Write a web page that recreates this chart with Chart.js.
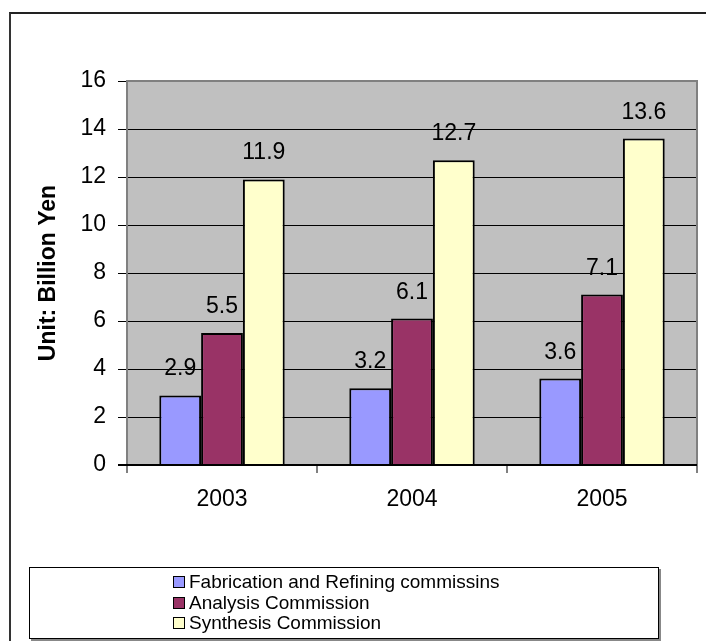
<!DOCTYPE html>
<html>
<head>
<meta charset="utf-8">
<script src="https://cdn.jsdelivr.net/npm/chart.js@4/dist/chart.umd.min.js"></script>
<style>
  body { margin: 0; background: #fff; }
  #wrap { position: relative; width: 706px; height: 641px; overflow: hidden; }
  #frame {
    position: absolute; left: 9px; top: 12px; width: 720px; height: 660px;
    border-left: 2px solid #333; border-top: 2px solid #222;
  }
  #myChart { position: absolute; left: 0; top: 0; }
  #legend {
    position: absolute; left: 29px; top: 567px; width: 628px; height: 70px;
    border: 1px solid #000; box-shadow: 2px 2px 0 #888;
    font-family: "Liberation Sans", Arial, sans-serif; font-size: 19px;
    line-height: 20.5px; color: #000;
  }
  #legend ul { list-style: none; margin: 0; padding: 4px 0 0 143px; }
  #legend li { white-space: nowrap; }
  #legend span.box {
    display: inline-block; width: 10px; height: 10px; border: 1px solid #000;
    margin-right: 4px; vertical-align: 0px;
  }
</style>
</head>
<body>
<div id="wrap">
  <div id="frame"></div>
  <canvas id="myChart" width="706" height="641"></canvas>
  <div id="legend"></div>
</div>
<script>
const years = ["2003", "2004", "2005"];
const fabrication = [2.9, 3.2, 3.6];
const analysis = [5.5, 6.1, 7.1];
const synthesis = [11.9, 12.7, 13.6];
const seriesNames = ["Fabrication and Refining commissins", "Analysis Commission", "Synthesis Commission"];
const seriesColors = ["#9999FF", "#993366", "#FFFFCC"];
const yMin = 0;
const yMax = 16;
const yStep = 2;

const FONT = "'Liberation Sans', Arial, sans-serif";

// grey plot area with a grey frame, like the old spreadsheet charts
const plotBackground = {
  id: "plotBackground",
  beforeDraw(chart) {
    const { ctx, chartArea: a } = chart;
    ctx.save();
    ctx.fillStyle = "#C0C0C0";
    ctx.fillRect(a.left, a.top, a.right - a.left, a.bottom - a.top);
    ctx.restore();
  },
  afterDraw(chart) {
    const { ctx, chartArea: a } = chart;
    ctx.save();
    ctx.strokeStyle = "#808080";
    ctx.lineWidth = 2;
    ctx.beginPath();
    ctx.moveTo(a.left, a.bottom);
    ctx.lineTo(a.left, a.top);
    ctx.lineTo(a.right, a.top);
    ctx.lineTo(a.right, a.bottom);
    ctx.stroke();
    ctx.strokeStyle = "#000";
    ctx.beginPath();
    ctx.moveTo(a.left - 9, a.bottom);
    ctx.lineTo(a.right, a.bottom);
    ctx.stroke();
    ctx.restore();
  },
};

// value printed above each bar
const barValues = {
  id: "barValues",
  afterDatasetsDraw(chart) {
    const ctx = chart.ctx;
    ctx.save();
    ctx.font = "23px " + FONT;
    ctx.fillStyle = "#000";
    ctx.textAlign = "center";
    ctx.textBaseline = "alphabetic";
    chart.data.datasets.forEach((ds, i) => {
      chart.getDatasetMeta(i).data.forEach((bar, j) => {
        ctx.fillText(ds.data[j].toFixed(1), bar.x, bar.y - 20);
      });
    });
    ctx.restore();
  },
};

const datasets = [fabrication, analysis, synthesis].map((vals, i) => ({
  label: seriesNames[i],
  data: vals,
  backgroundColor: seriesColors[i],
  borderColor: "#000",
  borderWidth: 2,
  borderSkipped: "bottom",
  categoryPercentage: 0.66,
  barPercentage: 1.0,
}));

const ctx = document.getElementById("myChart");
const chart = new Chart(ctx, {
  type: "bar",
  data: { labels: years, datasets: datasets },
  options: {
    responsive: false,
    animation: false,
    layout: { padding: { left: 0, top: 81, right: 9, bottom: 116 } },
    plugins: {
      legend: { display: false },
      tooltip: { enabled: false },
    },
    scales: {
      x: {
        afterFit(scale) { scale.height = 60; },
        grid: {
          offset: true,
          drawOnChartArea: false,
          drawTicks: true,
          tickLength: 8,
          color: "#808080",
          lineWidth: 2,
        },
        border: { display: false },
        ticks: { color: "#000", font: { family: FONT, size: 23 }, padding: 13 },
      },
      y: {
        min: yMin,
        max: yMax,
        afterFit(scale) { scale.width = 127; },
        grid: {
          color: (c) => (c.tick && c.tick.value === yMax ? "#808080" : "#000"),
          tickColor: "#000",
          lineWidth: 1,
          tickLength: 9,
        },
        border: { display: false },
        ticks: {
          stepSize: yStep,
          color: "#000",
          font: { family: FONT, size: 23 },
          padding: 12,
        },
        title: {
          display: true,
          text: "Unit: Billion Yen",
          color: "#000",
          font: { family: FONT, size: 23, weight: "bold" },
          padding: { top: 35, bottom: 0 },
        },
      },
    },
  },
  plugins: [plotBackground, barValues],
});

// legend box listing the three series, one per line
const ul = document.createElement("ul");
chart.data.datasets.forEach((ds) => {
  const li = document.createElement("li");
  const box = document.createElement("span");
  box.className = "box";
  box.style.background = ds.backgroundColor;
  li.appendChild(box);
  li.appendChild(document.createTextNode(ds.label));
  ul.appendChild(li);
});
document.getElementById("legend").appendChild(ul);
</script>
</body>
</html>
